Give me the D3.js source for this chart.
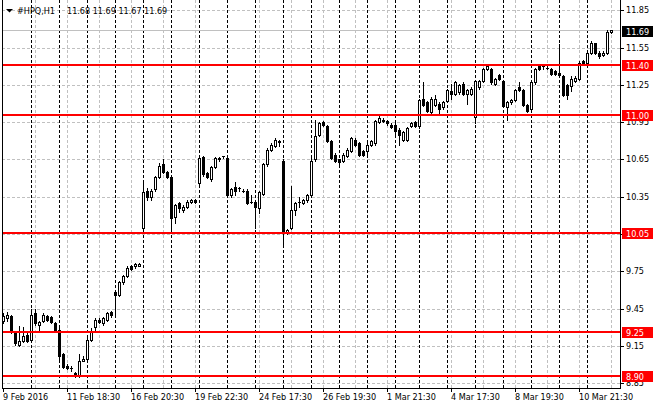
<!DOCTYPE html>
<html>
<head>
<meta charset="utf-8">
<script src="https://cdn.jsdelivr.net/npm/d3@7"></script>
<style>
body{margin:0;background:#fff;}
svg text{font-family:"DejaVu Sans Condensed","DejaVu Sans",sans-serif;font-stretch:condensed;font-size:9px;fill:#000;}
</style>
</head>
<body>
<svg id="chart"></svg>
<script>
let symbol = '#HPQ,H1';
let opens = [9.35,9.37,9.39,9.26,9.16,9.19,9.24,9.20,9.41,9.32,9.35,9.39,9.38,9.33,9.28,9.08,8.99,8.97,8.93,8.91,
    9.03,9.04,9.20,9.30,9.36,9.33,9.36,9.42,9.58,9.56,9.66,9.71,9.79,9.79,9.79,10.10,10.40,10.35,10.41,10.51,
    10.61,10.55,10.51,10.19,10.30,10.24,10.27,10.31,10.32,10.46,10.67,10.54,10.49,10.59,10.66,10.68,10.66,10.36,10.43,10.42,
    10.40,10.40,10.31,10.31,10.26,10.37,10.61,10.73,10.76,10.80,10.64,10.06,10.10,10.24,10.31,10.30,10.32,10.36,10.65,10.85,
    10.95,10.92,10.80,10.69,10.65,10.64,10.68,10.72,10.81,10.78,10.72,10.72,10.77,10.78,10.95,10.97,10.96,10.93,10.93,10.89,
    10.81,10.81,10.92,10.95,10.92,11.14,11.11,11.03,11.09,11.10,11.07,11.12,11.20,11.18,11.19,11.26,11.18,11.18,10.99,11.23,
    11.28,11.38,11.38,11.26,11.33,11.28,11.07,11.11,11.13,11.23,11.21,11.09,11.06,11.27,11.40,11.40,11.39,11.38,11.36,11.35,
    11.32,11.25,11.24,11.28,11.30,11.44,11.43,11.51,11.585,11.51,11.49,11.505,11.68];
let highs = [9.41,9.42,9.40,9.27,9.31,9.30,9.25,9.45,9.45,9.35,9.41,9.40,9.39,9.34,9.29,9.09,9.00,8.99,8.94,9.08,
    9.07,9.21,9.29,9.37,9.37,9.38,9.42,9.43,9.59,9.67,9.72,9.79,9.80,9.82,9.82,10.47,10.42,10.41,10.52,10.62,
    10.65,10.56,10.52,10.29,10.31,10.28,10.32,10.33,10.33,10.69,10.68,10.55,10.60,10.67,10.67,10.68,10.67,10.42,10.47,10.43,
    10.41,10.41,10.36,10.32,10.40,10.62,10.74,10.78,10.82,10.81,10.65,10.09,10.44,10.31,10.35,10.33,10.37,10.66,10.97,10.95,
    10.96,10.93,10.81,10.70,10.65,10.70,10.74,10.83,10.82,10.79,10.73,10.78,10.81,10.97,11.01,10.98,10.97,10.94,10.94,10.90,
    10.88,10.91,10.95,10.96,11.14,11.27,11.12,11.15,11.17,11.11,11.12,11.22,11.26,11.28,11.26,11.27,11.22,11.23,11.29,11.29,
    11.39,11.42,11.39,11.31,11.34,11.29,11.12,11.14,11.22,11.27,11.22,11.10,11.28,11.39,11.42,11.42,11.41,11.39,11.37,11.58,
    11.33,11.26,11.32,11.32,11.44,11.45,11.52,11.60,11.59,11.52,11.52,11.69,11.69];
let lows = [9.33,9.35,9.25,9.16,9.15,9.18,9.18,9.19,9.32,9.28,9.34,9.35,9.33,9.27,9.04,8.97,8.96,8.95,8.90,8.90,
    9.03,9.03,9.19,9.28,9.33,9.32,9.35,9.38,9.40,9.55,9.65,9.70,9.76,9.78,9.79,10.09,10.32,10.32,10.40,10.50,
    10.54,10.50,10.06,10.14,10.23,10.23,10.26,10.30,10.30,10.45,10.52,10.50,10.48,10.58,10.64,10.66,10.35,10.35,10.36,10.40,
    10.39,10.29,10.30,10.10,10.22,10.36,10.60,10.72,10.75,10.76,9.96,10.05,10.09,10.20,10.27,10.29,10.31,10.35,10.64,10.84,
    10.92,10.79,10.65,10.63,10.61,10.63,10.67,10.71,10.76,10.68,10.68,10.69,10.76,10.77,10.94,10.95,10.93,10.90,10.83,10.77,
    10.80,10.80,10.91,10.91,10.90,11.08,11.03,11.02,11.08,11.02,11.06,11.11,11.14,11.17,11.18,11.17,11.10,11.17,10.94,11.22,
    11.27,11.37,11.26,11.25,11.29,11.07,10.97,11.10,11.12,11.20,11.08,11.03,11.05,11.26,11.37,11.38,11.38,11.33,11.33,11.32,
    11.16,11.14,11.20,11.27,11.29,11.41,11.42,11.50,11.50,11.47,11.48,11.50,11.67];
let closes = [9.39,9.40,9.26,9.17,9.19,9.23,9.19,9.40,9.33,9.34,9.40,9.36,9.34,9.28,9.07,8.98,8.97,8.97,8.91,9.03,
    9.04,9.20,9.26,9.36,9.34,9.37,9.41,9.40,9.56,9.66,9.71,9.78,9.77,9.81,9.81,10.39,10.35,10.40,10.51,10.60,
    10.55,10.51,10.18,10.28,10.26,10.27,10.31,10.32,10.31,10.66,10.53,10.51,10.59,10.66,10.65,10.68,10.36,10.41,10.40,10.42,
    10.40,10.30,10.31,10.27,10.39,10.61,10.73,10.77,10.81,10.79,10.06,10.08,10.24,10.30,10.31,10.32,10.36,10.64,10.84,10.94,
    10.93,10.80,10.66,10.64,10.63,10.69,10.73,10.82,10.77,10.69,10.69,10.77,10.80,10.96,10.98,10.96,10.94,10.91,10.88,10.85,
    10.87,10.90,10.94,10.92,11.13,11.09,11.04,11.14,11.14,11.06,11.11,11.21,11.18,11.27,11.25,11.18,11.21,11.22,11.28,11.28,
    11.38,11.40,11.27,11.30,11.30,11.08,11.11,11.13,11.21,11.21,11.09,11.04,11.27,11.38,11.38,11.40,11.39,11.34,11.34,11.33,
    11.17,11.17,11.30,11.31,11.43,11.42,11.51,11.585,11.51,11.48,11.51,11.68,11.69];

/*bars where a new trading day starts*/
let daySeparators = [7,14,21,28,35,42,49,56,63,70,77,84,91,98,104,111,118,125,132,139,146];
/*horizontal levels drawn in red*/
let levels = [11.40, 11.00, 10.05, 9.25, 8.90];
/*price axis ticks*/
let priceTicks = [8.85, 9.15, 9.45, 9.75, 10.05, 10.35, 10.65, 10.95, 11.25, 11.55, 11.85];
/*time axis ticks (bar index) and their labels*/
let timeTicks = [0, 16, 32, 48, 64, 80, 96, 112, 128, 144];
let timeLabels = ['9 Feb 2016', '11 Feb 18:30', '16 Feb 20:30', '19 Feb 22:30', '24 Feb 17:30',
    '26 Feb 19:30', '1 Mar 21:30', '4 Mar 17:30', '8 Mar 19:30', '10 Mar 21:30'];

let width = 660;
let height = 410;
let plotLeft = 2;
let plotRight = 620;
let plotBottom = 388;
let barStep = 4;
let gridStep = 8; /*vertical grid every 8 bars*/

let values = opens.map((o, i) => ({i: i, o: o, h: highs[i], l: lows[i], c: closes[i]}));
let lastBar = values[values.length - 1];

let svg = d3.select('#chart')
    .attr('width', width)
    .attr('height', height)
    .style('display', 'block')
    .attr('shape-rendering', 'crispEdges');

/*bar index -> pixel column, price -> pixel row*/
let xScale = d3.scaleLinear()
    .domain([0, values.length - 1])
    .range([3, 3 + barStep * (values.length - 1)]);
let yScale = d3.scaleLinear()
    .domain([8.81, 11.934])
    .range([plotBottom, 0]);

let ry = (p) => Math.round(yScale(p));
let py = (p) => ry(p) + 0.5;
let px = (i) => Math.round(xScale(i)) + 0.5;

/*grey dashed grid*/
let grid = svg.append('g');
grid.selectAll('line.hgrid')
    .data(priceTicks)
    .enter()
    .append('line')
    .attr('x1', plotLeft).attr('x2', plotRight)
    .attr('y1', (d) => py(d)).attr('y2', (d) => py(d))
    .attr('stroke', '#c0c0c0')
    .attr('stroke-dasharray', '3,2');

let gridBars = d3.range(gridStep, values.length, gridStep);
grid.selectAll('line.vgrid')
    .data(gridBars)
    .enter()
    .append('line')
    .attr('x1', (d) => px(d)).attr('x2', (d) => px(d))
    .attr('y1', 0).attr('y2', plotBottom)
    .attr('stroke', '#c0c0c0')
    .attr('stroke-dasharray', '3,2');

/*day separators*/
grid.selectAll('line.sep')
    .data(daySeparators)
    .enter()
    .append('line')
    .attr('x1', (d) => px(d)).attr('x2', (d) => px(d))
    .attr('y1', 0).attr('y2', plotBottom)
    .attr('stroke', '#000')
    .attr('stroke-dasharray', '3,2');

/*current price line*/
svg.append('line')
    .attr('x1', plotLeft).attr('x2', plotRight)
    .attr('y1', py(lastBar.c)).attr('y2', py(lastBar.c))
    .attr('stroke', '#c0c0c0');

/*candles*/
let candles = svg.append('g')
    .selectAll('g')
    .data(values)
    .enter()
    .append('g');

candles.append('line')
    .attr('x1', (d) => px(d.i)).attr('x2', (d) => px(d.i))
    .attr('y1', (d) => ry(d.h))
    .attr('y2', (d) => ry(d.l) + 1)
    .attr('stroke', '#000');

candles.each(function (d) {
    let g = d3.select(this);
    let cx = Math.round(xScale(d.i));
    let top = ry(Math.max(d.o, d.c));
    let bot = ry(Math.min(d.o, d.c));
    if (bot - top < 1 || d.c < d.o) {
        g.append('rect')
            .attr('x', cx - 1).attr('y', top)
            .attr('width', 3).attr('height', Math.max(bot - top, 0) + 1)
            .attr('fill', '#000');
    } else {
        g.append('rect')
            .attr('x', cx - 0.5).attr('y', top + 0.5)
            .attr('width', 2).attr('height', bot - top)
            .attr('fill', '#fff')
            .attr('stroke', '#000');
    }
});

/*red levels*/
svg.append('g')
    .selectAll('line')
    .data(levels)
    .enter()
    .append('line')
    .attr('x1', plotLeft).attr('x2', plotRight)
    .attr('y1', (d) => ry(d) - 1)
    .attr('y2', (d) => ry(d) - 1)
    .attr('stroke', '#ff0000')
    .attr('stroke-width', 2);

/*frame*/
svg.append('line')
    .attr('x1', plotLeft + 0.5).attr('x2', plotLeft + 0.5)
    .attr('y1', 0).attr('y2', plotBottom + 1)
    .attr('stroke', '#000');
svg.append('line')
    .attr('x1', plotLeft).attr('x2', plotRight + 1)
    .attr('y1', plotBottom + 0.5).attr('y2', plotBottom + 0.5)
    .attr('stroke', '#000');
svg.append('line')
    .attr('x1', plotRight + 0.5).attr('x2', plotRight + 0.5)
    .attr('y1', 0).attr('y2', plotBottom + 1)
    .attr('stroke', '#000');

/*price axis*/
let yAxis = svg.append('g');
yAxis.selectAll('line')
    .data(priceTicks)
    .enter()
    .append('line')
    .attr('x1', plotRight).attr('x2', plotRight + 4)
    .attr('y1', (d) => py(d)).attr('y2', (d) => py(d))
    .attr('stroke', '#000');
yAxis.selectAll('text')
    .data(priceTicks)
    .enter()
    .append('text')
    .attr('x', plotRight + 6)
    .attr('y', (d) => ry(d) + 3)
    .text((d) => d.toFixed(2));

/*time axis*/
let xAxis = svg.append('g');
xAxis.selectAll('line')
    .data(timeTicks)
    .enter()
    .append('line')
    .attr('x1', (d) => px(d)).attr('x2', (d) => px(d))
    .attr('y1', plotBottom).attr('y2', plotBottom + 4)
    .attr('stroke', '#000');
xAxis.selectAll('text')
    .data(timeTicks)
    .enter()
    .append('text')
    .attr('x', (d) => Math.round(xScale(d)))
    .attr('y', 400)
    .text((d, k) => timeLabels[k]);

/*price boxes on the axis: red levels and the black current price*/
let boxes = levels.map((p) => ({p: p, fill: '#ff0000', dy: -6}));
boxes.push({p: lastBar.c, fill: '#000', dy: -4});
let tags = svg.append('g')
    .selectAll('g')
    .data(boxes)
    .enter()
    .append('g');
tags.append('rect')
    .attr('x', plotRight + 2)
    .attr('y', (d) => ry(d.p) + d.dy)
    .attr('width', 31)
    .attr('height', 11)
    .attr('fill', (d) => d.fill);
tags.append('text')
    .attr('x', plotRight + 6)
    .attr('y', (d) => ry(d.p) + d.dy + 8.5)
    .style('fill', '#fff')
    .text((d) => d.p.toFixed(2));

/*header: symbol and OHLC of the last bar*/
svg.append('path')
    .attr('d', 'M6,9 L13,9 L9.5,12.5 Z')
    .attr('fill', '#000')
    .attr('shape-rendering', 'auto');
svg.append('text')
    .attr('x', 17)
    .attr('y', 14)
    .text(symbol);
let headerValues = [lastBar.o, lastBar.h, lastBar.l, lastBar.c];
svg.selectAll('text.ohlc')
    .data(headerValues)
    .enter()
    .append('text')
    .attr('x', (d, k) => 67 + k * 25.7)
    .attr('y', 14)
    .text((d) => d.toFixed(2));
</script>
</body>
</html>
